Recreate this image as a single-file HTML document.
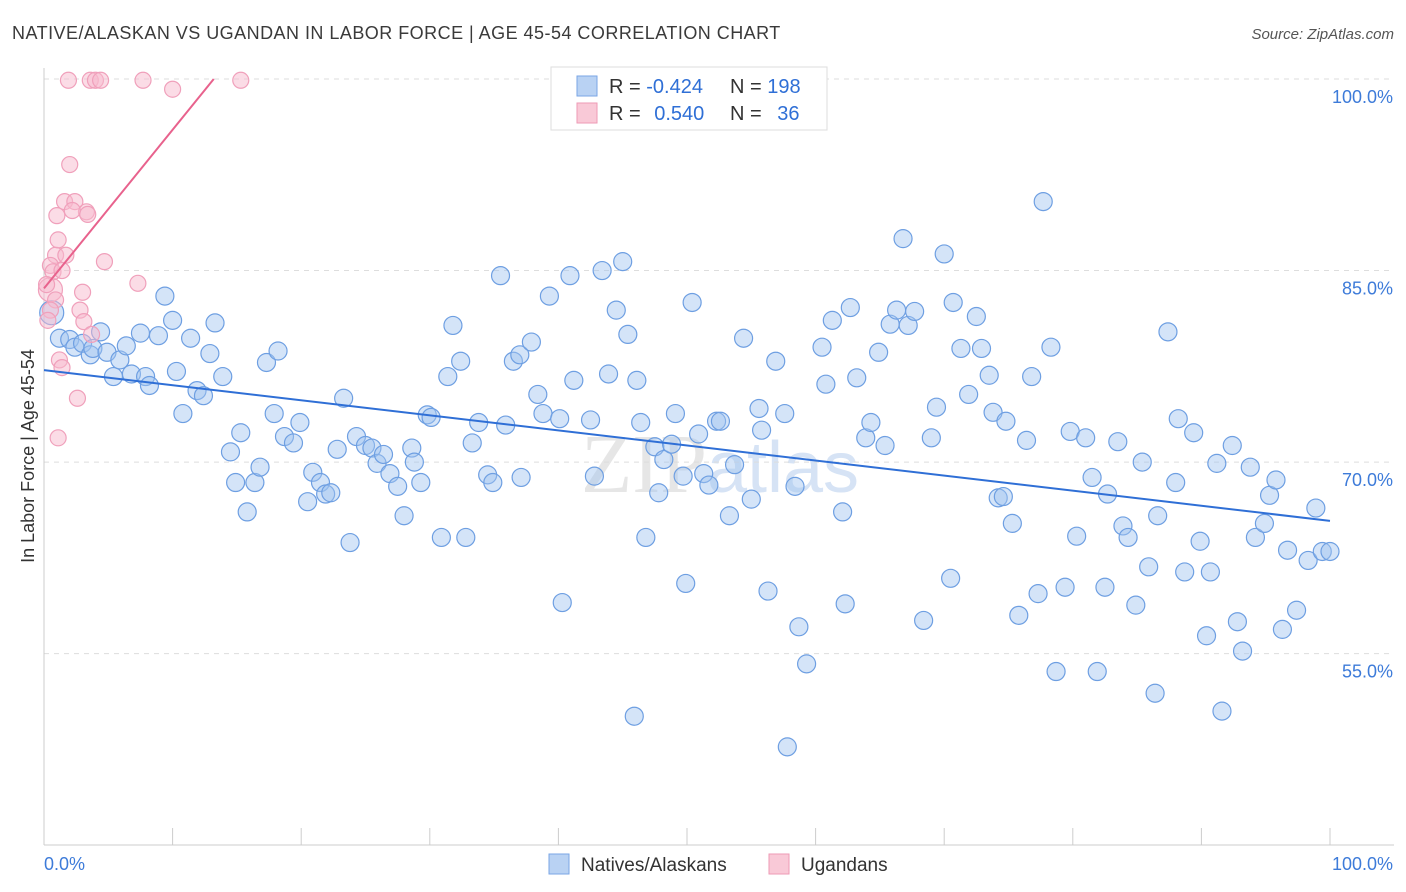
<!DOCTYPE html>
<html><head><meta charset="utf-8"><style>
body{margin:0;background:#fff;font-family:"Liberation Sans",sans-serif;}
svg{display:block}
</style></head><body>
<svg id="chart" width="1406" height="892" viewBox="0 0 1406 892">
<text x="12" y="39" font-size="18" fill="#3a3a3a" letter-spacing="0.47">NATIVE/ALASKAN VS UGANDAN IN LABOR FORCE | AGE 45-54 CORRELATION CHART</text>
<text x="1394" y="39" font-size="15" fill="#555" text-anchor="end" font-style="italic">Source: ZipAtlas.com</text>
<text x="720" y="492" font-size="84" fill="#e6e6e6" text-anchor="middle" font-family="Liberation Serif,serif">ZIP<tspan font-family="Liberation Sans,sans-serif" fill="#d6e3f5" font-size="72">atlas</tspan></text>
<g id="grid"></g><g id="axes"></g><g id="pts"></g><g id="trends"></g>
<text transform="translate(34,456) rotate(-90)" font-size="18" fill="#333" text-anchor="middle">In Labor Force | Age 45-54</text>
<g>
<rect x="551" y="67" width="276" height="63" fill="#fff" stroke="#ddd"/>
<rect x="577" y="76" width="20" height="20" fill="#b9d2f3" stroke="#7aa6e6"/>
<rect x="577" y="103" width="20" height="20" fill="#f9c9d7" stroke="#ee9ab5"/>
<text x="609" y="93" font-size="20" fill="#333">R = <tspan fill="#2f6fd6">-0.424</tspan></text>
<text x="730" y="93" font-size="20" fill="#333">N = <tspan fill="#2f6fd6">198</tspan></text>
<text x="609" y="120" font-size="20" fill="#333">R = <tspan fill="#2f6fd6" dx="8">0.540</tspan></text>
<text x="730" y="120" font-size="20" fill="#333">N = <tspan fill="#2f6fd6" dx="10">36</tspan></text>
</g>
<g>
<rect x="549" y="854" width="20" height="20" fill="#b9d2f3" stroke="#7aa6e6"/>
<text x="581" y="871" font-size="19" fill="#333">Natives/Alaskans</text>
<rect x="769" y="854" width="20" height="20" fill="#f9c9d7" stroke="#ee9ab5"/>
<text x="801" y="871" font-size="19" fill="#333">Ugandans</text>
</g>
</svg>
<script>
const blueX=[0.6,1.2,2.0,2.4,3.0,3.6,3.8,4.4,4.9,5.4,5.9,6.4,6.8,7.5,7.9,8.2,8.9,9.4,10.0,10.3,10.8,11.4,11.9,12.4,12.9,13.3,13.9,14.5,14.9,15.3,15.8,16.4,16.8,17.3,17.9,18.2,18.7,19.4,19.9,20.5,20.9,21.5,21.9,22.3,22.8,23.3,23.8,24.3,25.0,25.5,25.9,26.4,26.9,27.5,28.0,28.6,28.8,29.3,29.8,30.1,30.9,31.4,31.8,32.4,32.8,33.3,33.8,34.5,34.9,35.5,35.9,36.5,37.0,37.1,37.9,38.4,38.8,39.3,40.1,40.3,40.9,41.2,42.5,42.8,43.4,43.9,44.5,45.0,45.4,46.1,46.4,46.8,47.5,47.8,48.2,48.8,49.1,49.7,49.9,50.4,50.9,51.3,51.7,52.3,52.6,53.3,53.7,54.4,55.0,55.6,55.8,56.3,56.9,57.6,57.8,58.4,58.7,59.3,60.5,60.8,61.3,62.1,62.3,62.7,63.2,63.9,64.3,64.9,65.4,65.8,66.3,66.8,67.2,67.7,68.4,69.0,69.4,70.0,70.5,70.7,71.3,71.9,72.5,72.9,73.5,73.8,74.2,74.8,75.3,75.8,76.4,76.8,77.3,77.7,78.3,78.7,79.4,79.8,80.3,81.0,81.5,81.9,82.5,82.7,83.5,83.9,84.3,84.9,85.4,85.9,86.4,86.6,87.4,88.0,88.2,88.7,89.4,89.9,90.4,90.7,91.2,91.6,92.4,92.8,93.2,93.8,94.2,94.9,95.3,95.8,96.3,96.7,97.4,98.3,98.9,99.4,100.0,45.9,74.6];
const blueY=[81.7,79.7,79.6,79.0,79.3,78.4,78.9,80.2,78.6,76.7,78.0,79.1,76.9,80.1,76.7,76.0,79.9,83.0,81.1,77.1,73.8,79.7,75.6,75.2,78.5,80.9,76.7,70.8,68.4,72.3,66.1,68.4,69.6,77.8,73.8,78.7,72.0,71.5,73.1,66.9,69.2,68.4,67.5,67.6,71.0,75.0,63.7,72.0,71.3,71.1,69.9,70.6,69.1,68.1,65.8,71.1,70.0,68.4,73.7,73.5,64.1,76.7,80.7,77.9,64.1,71.5,73.1,69.0,68.4,84.6,72.9,77.9,78.4,68.8,79.4,75.3,73.8,83.0,73.4,59.0,84.6,76.4,73.3,68.9,85.0,76.9,81.9,85.7,80.0,76.4,73.1,64.1,71.2,67.6,70.2,71.4,73.8,68.9,60.5,82.5,72.2,69.1,68.2,73.2,73.2,65.8,69.8,79.7,67.1,74.2,72.5,59.9,77.9,73.8,47.7,68.1,57.1,54.2,79.0,76.1,81.1,66.1,58.9,82.1,76.6,71.9,73.1,78.6,71.3,80.8,81.9,87.5,80.7,81.8,57.6,71.9,74.3,86.3,60.9,82.5,78.9,75.3,81.4,78.9,76.8,73.9,67.2,73.2,65.2,58.0,71.7,76.7,59.7,90.4,79.0,53.6,60.2,72.4,64.2,71.9,68.8,53.6,60.2,67.5,71.6,65.0,64.1,58.8,70.0,61.8,51.9,65.8,80.2,68.4,73.4,61.4,72.3,63.8,56.4,61.4,69.9,50.5,71.3,57.5,55.2,69.6,64.1,65.2,67.4,68.6,56.9,63.1,58.4,62.3,66.4,63.0,63.0,50.1,67.3];
const pinkX=[0.5,0.9,1.0,1.1,1.2,1.4,1.1,1.6,1.9,2.0,2.4,2.6,2.8,3.0,3.1,3.3,3.4,3.6,3.7,4.0,4.4,4.7,7.3,7.7,10.0,15.3,0.5,0.7,0.2,0.9,1.4,1.7,0.5,0.3,2.2];
const pinkY=[83.5,86.2,89.3,87.4,78.0,77.4,71.9,90.4,99.9,93.3,90.4,75.0,81.9,83.3,81.0,89.6,89.4,99.9,80.0,99.9,99.9,85.7,84.0,99.9,99.2,99.9,85.4,84.9,83.9,82.7,85.0,86.2,81.9,81.1,89.7];
const blueTrendX=[0,100], blueTrendY=[77.2,65.4];
const pinkTrendX=[0,13.2], pinkTrendY=[83.6,100];
const yTicks=[100,85,70,55];
const yTickLabels=["100.0%","85.0%","70.0%","55.0%"];
const xTicks=[10,20,30,40,50,60,70,80,90,100];

const X=v=>44+v*12.86;
const Y=v=>79+(100-v)*12.77;
const NS="http://www.w3.org/2000/svg";
function mk(tag,attrs,parent){const e=document.createElementNS(NS,tag);for(const k in attrs)e.setAttribute(k,attrs[k]);parent.appendChild(e);return e;}
const grid=document.getElementById('grid'),axes=document.getElementById('axes'),pts=document.getElementById('pts'),tr=document.getElementById('trends');
yTicks.forEach((t,i)=>{
 const l=mk('line',{x1:44,x2:1394,y1:Y(t),y2:Y(t),stroke:'#ddd','stroke-dasharray':'5,5'},grid);
 
 
 const tx=mk('text',{x:1393,y:Y(t)+24,'font-size':18,fill:'#3d7bd9','text-anchor':'end'},grid);
 tx.textContent=yTickLabels[i];
 
 
});
const la=mk('line',{x1:44,x2:44,y1:68,y2:845,stroke:'#ccc'},axes);


const ba=mk('line',{x1:44,x2:1394,y1:845,y2:845,stroke:'#ccc'},axes);


xTicks.forEach(t=>{
 const l=mk('line',{x1:X(t),x2:X(t),y1:828,y2:845,stroke:'#ccc'},axes);
 
 
});
const x0=mk('text',{x:44,y:870,'font-size':18,fill:'#3d7bd9'},axes);x0.textContent='0.0%';


const x1=mk('text',{x:1393,y:870,'font-size':18,fill:'#3d7bd9','text-anchor':'end'},axes);x1.textContent='100.0%';


blueX.forEach((v,i)=>{
 const r=i===0?12:9;
 const c=mk('circle',{cx:X(v),cy:Y(blueY[i]),r:r,fill:'rgba(160,195,240,0.45)',stroke:'#6e9fe2','stroke-width':1.2},pts);
 
 
});
pinkX.forEach((v,i)=>{
 const r=i===0?12:8;
 const c=mk('circle',{cx:X(v),cy:Y(pinkY[i]),r:r,fill:'rgba(248,185,205,0.5)',stroke:'#f0a0bb','stroke-width':1.2},pts);
 
 
});
const bt=mk('line',{x1:X(blueTrendX[0]),y1:Y(blueTrendY[0]),x2:X(blueTrendX[1]),y2:Y(blueTrendY[1]),stroke:'#2f6fd6','stroke-width':2},tr);


const pt=mk('line',{x1:X(pinkTrendX[0]),y1:Y(pinkTrendY[0]),x2:X(pinkTrendX[1]),y2:Y(pinkTrendY[1]),stroke:'#e8628d','stroke-width':2},tr);


</script>
</body></html>
